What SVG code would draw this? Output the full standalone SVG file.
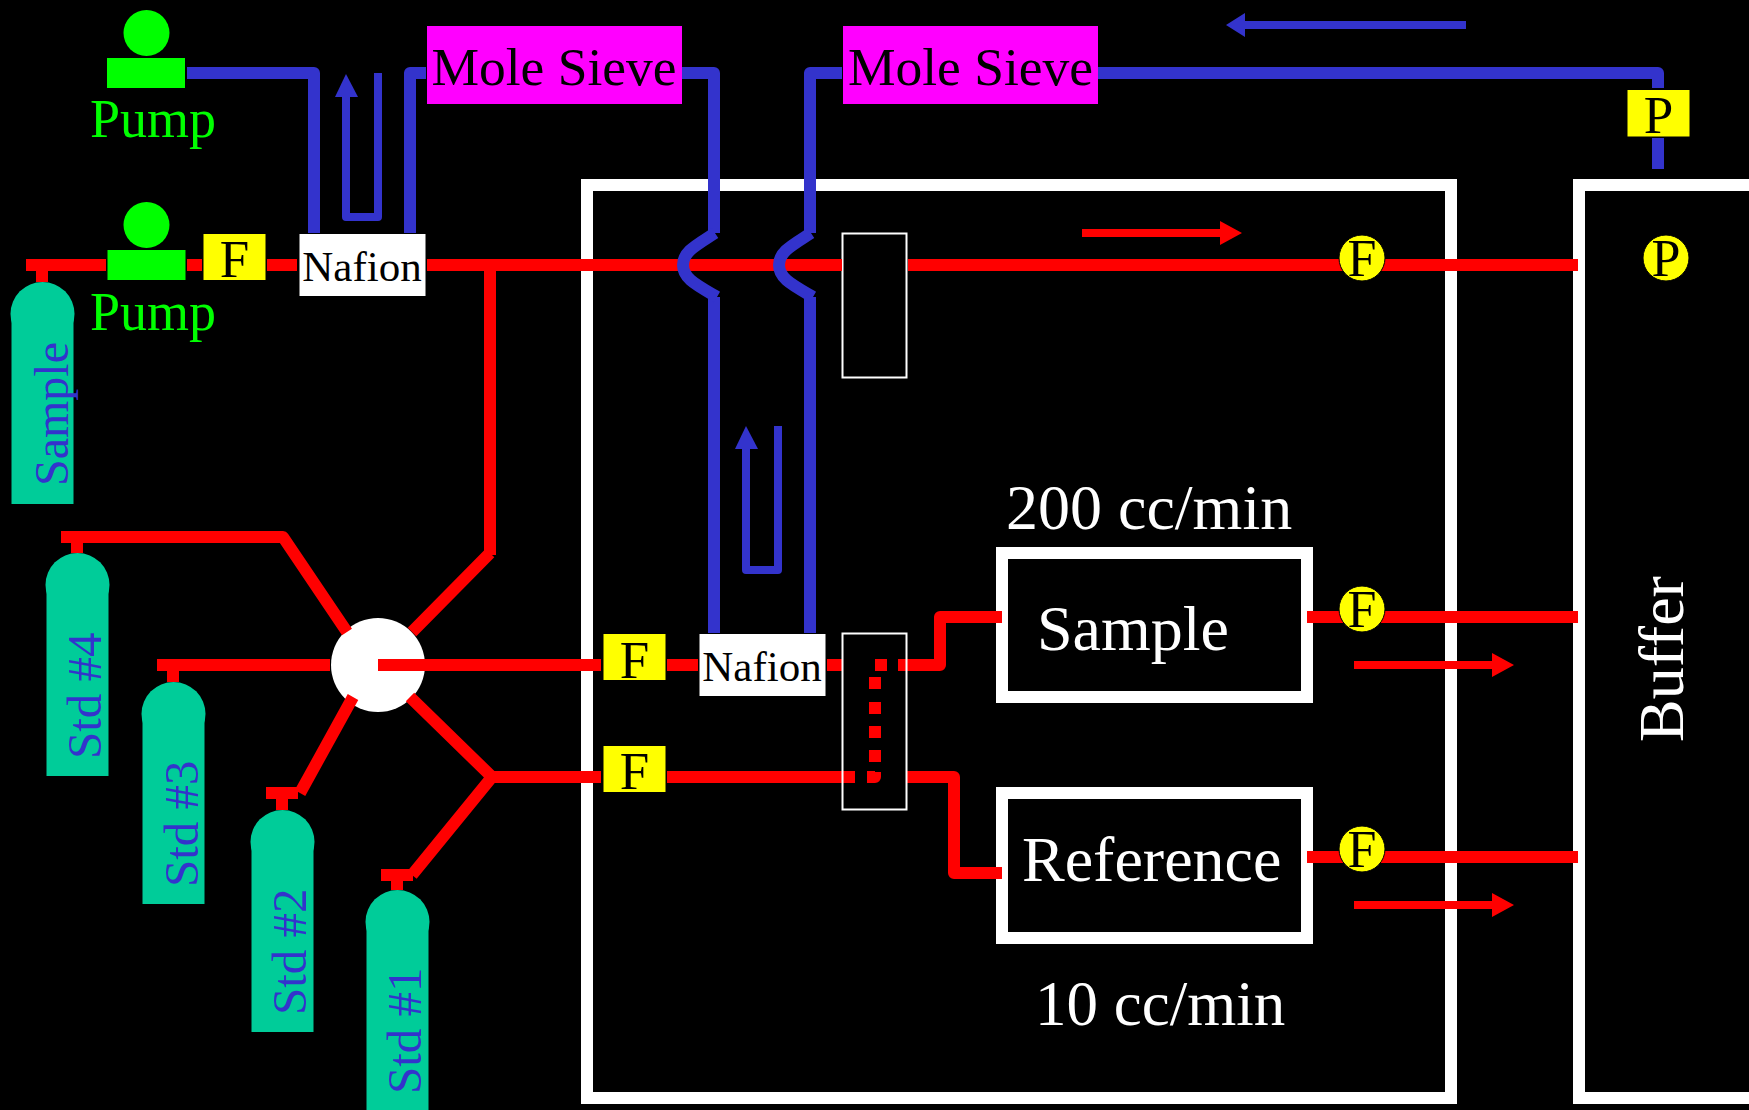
<svg xmlns="http://www.w3.org/2000/svg" width="1749" height="1110" viewBox="0 0 1749 1110">
<style>
text{font-family:"Liberation Serif","Times New Roman",serif}
.red{fill:none;stroke:#f00;stroke-width:12}
.blue{fill:none;stroke:#33c;stroke-width:12}
.thin{fill:none;stroke:#33c;stroke-width:8;stroke-linejoin:round}
.j{stroke-linejoin:round}
.wall{fill:none;stroke:#fff;stroke-width:12}
.hx{fill:#000;stroke:#fff;stroke-width:2}
.pump{fill:#0f0}
.pt{fill:#0f0;font-size:54px}
.y{fill:#ff0}
.yc{fill:#ff0;stroke:#000;stroke-width:1}
.k{fill:#000;text-anchor:middle}
.cyl{fill:#0c9}
.ct{fill:#33c;font-size:49px}
.w{fill:#fff;font-size:64px}
</style>
<rect width="1749" height="1110" fill="#000"/>
<g id="walls">
<rect class="wall" x="587" y="185" width="864" height="913"/>
<rect class="wall" x="1579" y="185" width="300" height="913"/>
</g>
<g id="hx1"><rect class="hx" x="842.500" y="233.500" width="64" height="144"/></g>
<g id="valve"><circle cx="378" cy="665" r="47" fill="#fff"/></g>
<g id="sample-cell"><rect class="wall" x="1002" y="553" width="305" height="144"/><text class="w" x="1037" y="650">Sample</text></g>
<g id="reference-cell"><rect class="wall" x="1002" y="793" width="305" height="145"/><text class="w" x="1022" y="881">Reference</text></g>
<g id="connectors">
<path class="blue j" d="M187 73H314V233M426 73H410V233"/>
<path class="blue j" d="M682 73H714V233M842 73H810V233M1098 73H1658V88M1658 138V169M714 297V633M810 297V633"/>
<path class="thin" d="M346 95V217H378V73"/>
<path fill="#33c" d="M346 74L358 97H335Z"/>
<path class="thin" d="M746 448V570H778V426"/>
<path fill="#33c" d="M746 426L758 449H735Z"/>
<path fill="#33c" d="M1466 21V29H1245V37L1226 25L1245 13V21Z"/>
<path class="red" d="M26 265H106M187 265H202M267 265H297M427 265H842M908 265H1578"/>
<path class="red" d="M42 265V282M490 265V555"/>
<path class="red j" d="M61 537H283L347 632M490 553L412 632"/>
<path class="red" d="M77 537V553"/>
<path class="red" d="M157 665H330M173 665V682M266 793H298M282 793V810M353 697L300 793M381 875H413M397 875V890"/>
<path class="red" d="M412 875L492 777L410 697"/>
<path class="red" d="M490 777H601M378 665H601M667 665H698M827 665H843M667 777H855"/>
<path class="red j" d="M898 665H940V617H1002M907 777H954V873H1002"/>
<path class="red" d="M875 665H887M875 677V689M875 702V714M875 726V738M875 750V762"/>
<path class="red j" d="M867 777H875V772" />
<path class="red" d="M1307 617H1578M1307 857H1578"/>
<path fill="#f00" d="M1082 229H1220V221L1242 233L1220 245V237H1082ZM1354 661H1492V653L1514 665L1492 677V669H1354ZM1354 901H1492V893L1514 905L1492 917V909H1354Z"/>
</g>
<g id="crossing-1"><path class="blue" d="M715 233C695 246 683 252 683 265C683 278 695 284 717 297"/></g>
<g id="crossing-2"><path class="blue" d="M811 233C791 246 779 252 779 265C779 278 791 284 813 297"/></g>
<g id="hx2"><rect x="842.500" y="633.500" width="64" height="176" fill="none" stroke="#fff" stroke-width="2"/></g>
<g id="pump-1"><circle class="pump" cx="146.500" cy="33" r="23"/><rect class="pump" x="107" y="58" width="78" height="30"/><text class="pt" x="90" y="137">Pump</text></g>
<g id="pump-2"><circle class="pump" cx="146.500" cy="225" r="23"/><rect class="pump" x="107.500" y="250" width="78" height="30"/><text class="pt" x="90" y="330">Pump</text></g>
<g id="flow-top"><rect class="y" x="203.500" y="234" width="62" height="46"/><text class="k" x="234.500" y="277" font-size="53">F</text></g>
<g id="nafion-1"><rect x="299.500" y="234" width="126" height="62" fill="#fff"/><text class="k" x="362" y="281" font-size="43">Nafion</text></g>
<g id="sieve-1"><rect x="427" y="26" width="255" height="78" fill="#f0f"/><text class="k" x="554" y="85" font-size="53.500">Mole Sieve</text></g>
<g id="sieve-2"><rect x="843" y="26" width="255" height="78" fill="#f0f"/><text class="k" x="970.500" y="85" font-size="53.500">Mole Sieve</text></g>
<g id="p-box"><rect class="y" x="1627.500" y="90" width="62" height="46.500"/><text class="k" x="1658.500" y="133" font-size="53">P</text></g>
<g id="f-circle-1"><circle class="yc" cx="1362" cy="258" r="23"/><text class="k" x="1362" y="276" font-size="52">F</text></g>
<g id="p-circle"><circle class="yc" cx="1666" cy="258" r="23"/><text class="k" x="1666" y="276" font-size="52">P</text></g>
<g id="f-circle-2"><circle class="yc" cx="1362" cy="609" r="23"/><text class="k" x="1362" y="627" font-size="52">F</text></g>
<g id="f-circle-3"><circle class="yc" cx="1362" cy="849" r="23"/><text class="k" x="1362" y="867" font-size="52">F</text></g>
<g id="sample-cyl"><circle class="cyl" cx="42.500" cy="314" r="32"/><rect class="cyl" x="11.500" y="314" width="62" height="190"/><text class="ct" font-size="48" style="font-size:48px" transform="translate(67.500 486) rotate(-90)">Sample</text></g>
<g id="std4"><circle class="cyl" cx="77.500" cy="585" r="32"/><rect class="cyl" x="46.500" y="585" width="62" height="191"/><text class="ct" transform="translate(101 759) rotate(-90)">Std #4</text></g>
<g id="std3"><circle class="cyl" cx="173.500" cy="714" r="32"/><rect class="cyl" x="142.500" y="714" width="62" height="190"/><text class="ct" transform="translate(198 887) rotate(-90)">Std #3</text></g>
<g id="std2"><circle class="cyl" cx="282.500" cy="842" r="32"/><rect class="cyl" x="251.500" y="842" width="62" height="190"/><text class="ct" transform="translate(306 1015) rotate(-90)">Std #2</text></g>
<g id="std1"><circle class="cyl" cx="397.500" cy="922" r="32"/><rect class="cyl" x="366.500" y="922" width="62" height="200"/><text class="ct" transform="translate(421 1094) rotate(-90)">Std #1</text></g>
<g id="flow-mid"><rect class="y" x="603.500" y="634" width="62" height="46"/><text class="k" x="634.500" y="678" font-size="53">F</text></g>
<g id="flow-low"><rect class="y" x="603.500" y="746" width="62" height="46"/><text class="k" x="634.500" y="789" font-size="53">F</text></g>
<g id="nafion-2"><rect x="699.500" y="634" width="126" height="62" fill="#fff"/><text class="k" x="762" y="681" font-size="43">Nafion</text></g>
<text class="w" x="1006" y="529">200 cc/min</text>
<text class="w" style="font-size:63px" x="1035" y="1025">10 cc/min</text>
<text class="w" transform="translate(1683 742) rotate(-90)">Buffer</text>
</svg>
